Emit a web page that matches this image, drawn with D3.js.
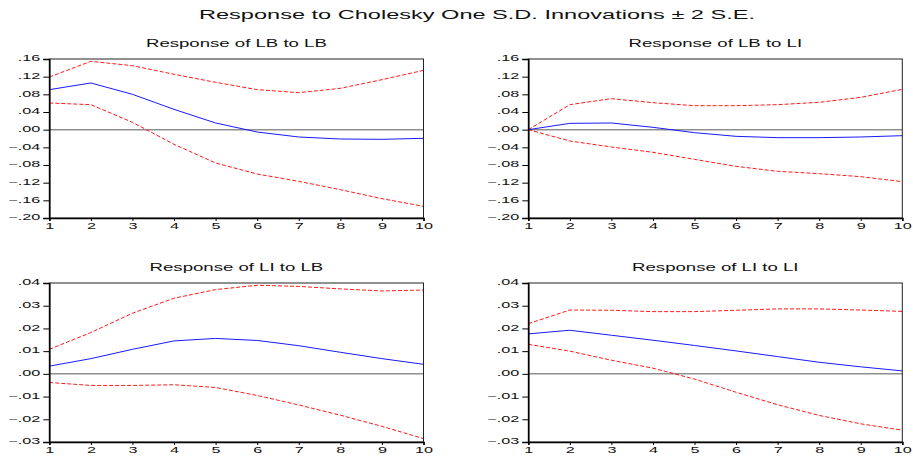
<!DOCTYPE html>
<html>
<head>
<meta charset="utf-8">
<script src="https://cdn.jsdelivr.net/npm/d3@7"></script>
<style>
  body { margin: 0; background: #fff; }
  text { font-family: "Liberation Sans", Arial, sans-serif; fill: #111; }
</style>
</head>
<body>
<svg id="chart" width="913" height="461"></svg>
<script>
// periods after the shock
var periods = [1, 2, 3, 4, 5, 6, 7, 8, 9, 10];

// Response of LB to LB
var lbLbResp  = [0.0906, 0.1057, 0.0800, 0.0460, 0.0151, -0.0053, -0.0166, -0.0211, -0.0219, -0.0196];
var lbLbUpper = [0.1192, 0.1547, 0.1449, 0.1253, 0.1072, 0.0906, 0.0838, 0.0936, 0.1132, 0.1343];
var lbLbLower = [0.0604, 0.0566, 0.0166, -0.0332, -0.0755, -0.1004, -0.1170, -0.1358, -0.1562, -0.1736];

// Response of LB to LI
var lbLiResp  = [0.0, 0.0143, 0.0151, 0.0053, -0.0068, -0.0151, -0.0181, -0.0181, -0.0166, -0.0136];
var lbLiUpper = [0.0, 0.0566, 0.0702, 0.0611, 0.0543, 0.0543, 0.0566, 0.0619, 0.0732, 0.0913];
var lbLiLower = [0.0, -0.0257, -0.0392, -0.0513, -0.0672, -0.0830, -0.0943, -0.0996, -0.1064, -0.1177];

// Response of LI to LB
var liLbResp  = [0.0034, 0.0067, 0.0108, 0.0145, 0.0156, 0.0147, 0.0124, 0.0095, 0.0067, 0.0042];
var liLbUpper = [0.0108, 0.0182, 0.0267, 0.0333, 0.0371, 0.0390, 0.0385, 0.0374, 0.0365, 0.0369];
var liLbLower = [-0.0038, -0.0051, -0.0051, -0.0048, -0.0060, -0.0095, -0.0137, -0.0182, -0.0231, -0.0285];

// Response of LI to LI
var liLiResp  = [0.0176, 0.0192, 0.0170, 0.0148, 0.0125, 0.0101, 0.0076, 0.0051, 0.0031, 0.0013];
var liLiUpper = [0.0221, 0.0281, 0.0280, 0.0274, 0.0274, 0.0280, 0.0286, 0.0286, 0.0281, 0.0275];
var liLiLower = [0.0130, 0.0100, 0.0060, 0.0025, -0.0023, -0.0081, -0.0136, -0.0183, -0.0220, -0.0248];

var lbTicks = [0.16, 0.12, 0.08, 0.04, 0.00, -0.04, -0.08, -0.12, -0.16, -0.20];
var liTicks = [0.04, 0.03, 0.02, 0.01, 0.00, -0.01, -0.02, -0.03];

var mainTitle = "Response to Cholesky One S.D. Innovations \u00b1 2 S.E.";
var panelTitles = ["Response of LB to LB", "Response of LB to LI", "Response of LI to LB", "Response of LI to LI"];

var svg = d3.select('#chart');

// the picture is stretched sideways, so stretch every text the same way
function stretch(sel, k) {
  sel.each(function() {
    var w = this.getComputedTextLength();
    d3.select(this).attr('textLength', w * k).attr('lengthAdjust', 'spacingAndGlyphs');
  });
}

function fmt(v) {
  var s = d3.format(".2f")(Math.abs(v) < 1e-9 ? 0 : v);
  return s.replace("0.", ".");
}

var title = svg.append('text')
  .attr('x', 477)
  .attr('y', 19)
  .attr('text-anchor', 'middle')
  .style('font-size', '12.5px')
  .text(mainTitle);
var tw = title.node().getComputedTextLength();
title.attr('textLength', 556).attr('lengthAdjust', 'spacingAndGlyphs');

var panels = [
  {x0: 49.3, x1: 423.5, y0: 59, y1: 218, ticks: lbTicks, resp: lbLbResp, up: lbLbUpper, lo: lbLbLower, title: panelTitles[0]},
  {x0: 528.3, x1: 902.3, y0: 59, y1: 218, ticks: lbTicks, resp: lbLiResp, up: lbLiUpper, lo: lbLiLower, title: panelTitles[1]},
  {x0: 49.3, x1: 423.5, y0: 283, y1: 442, ticks: liTicks, resp: liLbResp, up: liLbUpper, lo: liLbLower, title: panelTitles[2]},
  {x0: 528.3, x1: 902.3, y0: 283, y1: 442, ticks: liTicks, resp: liLiResp, up: liLiUpper, lo: liLiLower, title: panelTitles[3]}
];

panels.forEach(function(p) {
  var x = d3.scaleLinear().domain([1, 10]).range([p.x0, p.x1]);
  var y = d3.scaleLinear().domain([d3.min(p.ticks), d3.max(p.ticks)]).range([p.y1, p.y0]);

  var g = svg.append('g').attr('class', 'panel');

  var t = g.append('text')
    .attr('x', (p.x0 + p.x1) / 2)
    .attr('y', p.y0 - 12.5)
    .attr('text-anchor', 'middle')
    .style('font-size', '10.5px')
    .text(p.title);
  stretch(t, 1.77);

  // zero line
  g.append('line')
    .attr('x1', p.x0).attr('x2', p.x1)
    .attr('y1', y(0)).attr('y2', y(0))
    .attr('stroke', '#8f8f8f')
    .attr('stroke-width', 1.5);

  var line = d3.line()
    .x(function(d, i) { return x(periods[i]); })
    .y(function(d) { return y(d); });

  g.append('path').datum(p.up)
    .attr('d', line).attr('fill', 'none')
    .attr('stroke', '#ff1a1a').attr('stroke-width', 1)
    .attr('stroke-dasharray', '4,2');
  g.append('path').datum(p.lo)
    .attr('d', line).attr('fill', 'none')
    .attr('stroke', '#ff1a1a').attr('stroke-width', 1)
    .attr('stroke-dasharray', '4,2');
  g.append('path').datum(p.resp)
    .attr('d', line).attr('fill', 'none')
    .attr('stroke', '#1a1aff').attr('stroke-width', 1);

  // frame
  g.append('rect')
    .attr('x', p.x0).attr('y', p.y0)
    .attr('width', p.x1 - p.x0).attr('height', p.y1 - p.y0)
    .attr('fill', 'none').attr('stroke', '#222').attr('stroke-width', 1);

  var yAxis = g.append('g')
    .attr('transform', 'translate(' + p.x0 + ',0)')
    .call(d3.axisLeft(y).tickValues(p.ticks).tickFormat(fmt).tickSize(6).tickPadding(3));
  yAxis.select('.domain').attr('stroke', '#000').attr('stroke-width', 1.6);
  yAxis.selectAll('.tick line').attr('stroke', '#000');
  yAxis.selectAll('.tick text')
    .attr('dy', '0.2em')
    .style('font-size', '9px')
    .attr('fill', '#111');
  stretch(yAxis.selectAll('.tick text'), 1.8);

  var xAxis = g.append('g')
    .attr('transform', 'translate(0,' + p.y1 + ')')
    .call(d3.axisBottom(x).tickValues(periods).tickFormat(d3.format('d')).tickSize(3).tickPadding(2));
  xAxis.select('.domain').attr('stroke', '#000').attr('stroke-width', 1.6);
  xAxis.selectAll('.tick line').attr('stroke', '#000');
  xAxis.selectAll('.tick text')
    .style('font-size', '9px')
    .attr('fill', '#111');
  stretch(xAxis.selectAll('.tick text'), 1.8);
});
</script>
</body>
</html>
